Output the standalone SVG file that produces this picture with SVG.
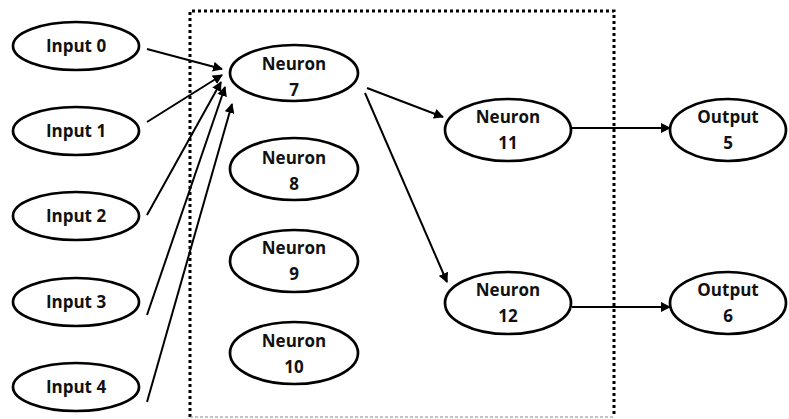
<svg xmlns="http://www.w3.org/2000/svg" width="789" height="419" viewBox="0 0 789 419">
  <defs>
    <marker id="arrow" viewBox="0 0 10 10" refX="9" refY="5" markerWidth="5" markerHeight="5" orient="auto" markerUnits="strokeWidth">
      <path d="M0,0 L10,5 L0,10 z" fill="#000"/>
    </marker>
    <style>
      .node ellipse { fill: #fff; stroke: #000; stroke-width: 2.7; }
      .node text { font-family: "Open Sans", "Liberation Sans", sans-serif; font-weight: 700; font-size: 17px; fill: #111; text-anchor: middle; }
      .edge { stroke: #000; stroke-width: 2; fill: none; marker-end: url(#arrow); }
      .box { stroke: #000; stroke-width: 3; stroke-dasharray: 3 3; fill: none; }
      .box-bottom { stroke: #888; stroke-width: 1; stroke-dasharray: 3 2; fill: none; }
    </style>
  </defs>
  <rect width="789" height="419" fill="#fff"/>

  <!-- hidden-layer frame -->
  <g id="hidden-layer-frame">
    <polyline class="box" points="190,417 190,11 614,11 614,417"/>
    <line class="box-bottom" x1="190" y1="417" x2="614" y2="417"/>
  </g>

  <!-- connectors -->
  <g id="connectors">
    <line class="edge" x1="147" y1="49" x2="222" y2="69"/>
    <line class="edge" x1="147" y1="122" x2="222" y2="75"/>
    <line class="edge" x1="147" y1="215" x2="221" y2="82"/>
    <line class="edge" x1="147" y1="315" x2="225" y2="87"/>
    <line class="edge" x1="147" y1="402" x2="232" y2="104"/>
    <line class="edge" x1="367" y1="88" x2="443" y2="117"/>
    <line class="edge" x1="365" y1="93" x2="447" y2="282"/>
    <line class="edge" x1="572" y1="128" x2="670" y2="128"/>
    <line class="edge" x1="572" y1="307" x2="670" y2="307"/>
  </g>

  <!-- input layer -->
  <g id="input-0" class="node"><ellipse cx="76" cy="46" rx="63" ry="24"/><text x="76" y="52">Input 0</text></g>
  <g id="input-1" class="node"><ellipse cx="76" cy="131" rx="63" ry="24"/><text x="76" y="137">Input 1</text></g>
  <g id="input-2" class="node"><ellipse cx="76" cy="216" rx="63" ry="24"/><text x="76" y="222">Input 2</text></g>
  <g id="input-3" class="node"><ellipse cx="76" cy="302" rx="63" ry="24"/><text x="76" y="308">Input 3</text></g>
  <g id="input-4" class="node"><ellipse cx="76" cy="387" rx="63" ry="24"/><text x="76" y="393">Input 4</text></g>

  <!-- hidden layer 1 -->
  <g id="neuron-7" class="node"><ellipse cx="294" cy="73" rx="64" ry="28"/><text x="294" y="70">Neuron</text><text x="294" y="96">7</text></g>
  <g id="neuron-8" class="node"><ellipse cx="294" cy="169" rx="64" ry="31"/><text x="294" y="164">Neuron</text><text x="294" y="190">8</text></g>
  <g id="neuron-9" class="node"><ellipse cx="294" cy="261" rx="64" ry="31"/><text x="294" y="254">Neuron</text><text x="294" y="280">9</text></g>
  <g id="neuron-10" class="node"><ellipse cx="294" cy="353" rx="64" ry="31"/><text x="294" y="347">Neuron</text><text x="294" y="373">10</text></g>

  <!-- hidden layer 2 -->
  <g id="neuron-11" class="node"><ellipse cx="508" cy="130" rx="63" ry="31"/><text x="508" y="123">Neuron</text><text x="508" y="149">11</text></g>
  <g id="neuron-12" class="node"><ellipse cx="508" cy="303" rx="63" ry="31"/><text x="508" y="296">Neuron</text><text x="508" y="322">12</text></g>

  <!-- output layer -->
  <g id="output-5" class="node"><ellipse cx="728" cy="130" rx="58" ry="31"/><text x="728" y="123">Output</text><text x="728" y="149">5</text></g>
  <g id="output-6" class="node"><ellipse cx="728" cy="303" rx="58" ry="31"/><text x="728" y="296">Output</text><text x="728" y="322">6</text></g>
</svg>
